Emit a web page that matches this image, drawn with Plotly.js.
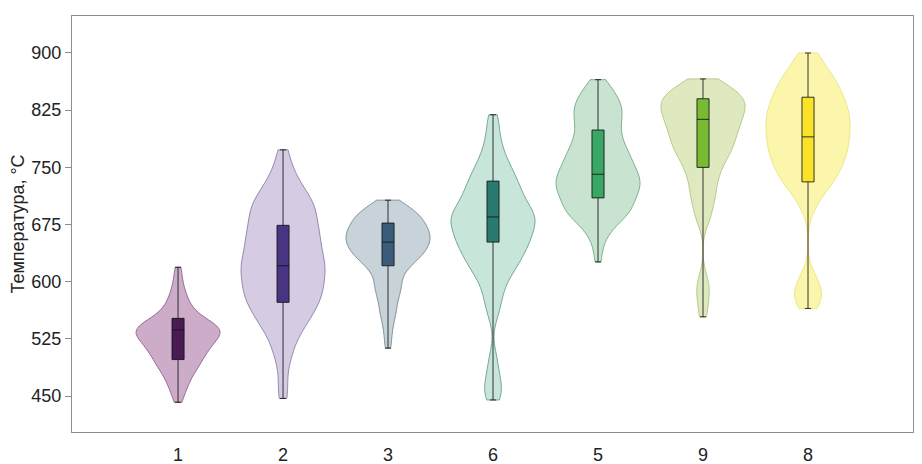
<!DOCTYPE html>
<html>
<head>
<meta charset="utf-8">
<script src="https://cdn.plot.ly/plotly-3.0.1.min.js"></script>
<style>
  html, body { margin: 0; padding: 0; background: #fff; }
  #chart { width: 922px; height: 464px; }
</style>
</head>
<body>
<div id="chart"></div>
<script>
// group order on the x axis
var groups = ['1', '2', '3', '6', '5', '9', '8'];

var g1 = [442, 452, 458, 463, 468, 471, 476, 479, 481, 484, 487, 489, 491, 493, 495, 497, 499,
  501, 503, 504, 506, 508, 509, 511, 512, 514, 515, 517, 518, 519, 521, 522, 523, 525, 526, 527,
  528, 529, 530, 531, 532, 533, 534, 535, 536, 537, 538, 539, 540, 541, 542, 543, 544, 545, 546,
  547, 549, 551, 553, 555, 557, 559, 562, 566, 569, 572, 578, 582, 588, 596, 606, 619];
var g2 = [447, 468, 493, 505, 516, 524, 532, 538, 542, 546, 551, 555, 558, 561, 564, 567, 571,
  574, 577, 579, 581, 584, 586, 589, 592, 594, 597, 599, 602, 605, 607, 610, 613, 615, 617, 619,
  621, 624, 626, 629, 632, 634, 636, 639, 642, 645, 648, 651, 654, 656, 659, 662, 664, 667, 670,
  673, 676, 679, 683, 686, 689, 692, 695, 698, 701, 704, 707, 711, 715, 719, 724, 730, 736, 745,
  756, 773];
var g3 = [513, 526, 537, 546, 553, 558, 564, 568, 573, 578, 582, 586, 589, 592, 595, 598, 601,
  605, 608, 611, 614, 617, 619, 621, 622, 624, 626, 627, 629, 631, 632, 633, 635, 636, 637, 638,
  639, 640, 641, 642, 643, 645, 646, 647, 648, 649, 650, 651, 652, 653, 654, 655, 656, 657, 658,
  659, 660, 661, 662, 663, 664, 665, 666, 667, 668, 669, 670, 671, 672, 674, 675, 676, 678, 679,
  679, 680, 681, 683, 684, 686, 687, 688, 689, 691, 692, 694, 696, 697, 699, 702, 704, 707];
var g6 = [445, 451, 458, 466, 475, 487, 503, 553, 566, 574, 583, 589, 596, 603, 606, 610, 614,
  618, 621, 623, 626, 628, 631, 634, 636, 639, 641, 643, 645, 647, 649, 651, 653, 655, 657, 659,
  661, 662, 664, 666, 668, 670, 672, 673, 675, 677, 679, 681, 682, 683, 685, 686, 688, 689, 691,
  692, 694, 696, 698, 701, 703, 705, 708, 710, 712, 714, 716, 719, 722, 725, 727, 730, 733, 736,
  739, 742, 746, 750, 753, 757, 764, 770, 776, 785, 795, 808, 819];
var g5 = [626, 644, 656, 664, 669, 673, 677, 681, 684, 686, 687, 689, 691, 692, 694, 696, 698,
  700, 702, 704, 706, 708, 710, 711, 713, 714, 716, 718, 720, 721, 723, 724, 726, 727, 728, 729,
  731, 733, 734, 736, 737, 739, 740, 742, 743, 745, 747, 749, 750, 752, 754, 756, 757, 759, 762,
  764, 766, 768, 770, 771, 773, 776, 779, 781, 784, 786, 789, 792, 795, 798, 801, 804, 807, 810,
  813, 816, 818, 820, 823, 826, 829, 831, 833, 836, 839, 842, 846, 849, 853, 858, 865];
var g9 = [554, 571, 584, 593, 606, 676, 686, 694, 702, 709, 714, 719, 725, 731, 736, 741, 745,
  749, 753, 757, 760, 763, 766, 769, 772, 774, 776, 778, 781, 783, 786, 788, 790, 792, 795, 797,
  799, 801, 803, 805, 807, 809, 811, 813, 815, 817, 818, 820, 822, 824, 826, 828, 829, 831, 832,
  834, 835, 837, 839, 841, 842, 844, 846, 847, 849, 851, 853, 856, 859, 862, 866];
var g8 = [565, 569, 574, 578, 583, 587, 592, 597, 604, 613, 691, 701, 709, 714, 718, 722, 726,
  728, 731, 733, 736, 739, 741, 743, 745, 747, 750, 752, 754, 756, 758, 760, 761, 763, 765, 767,
  769, 771, 773, 774, 776, 778, 779, 781, 783, 785, 787, 788, 790, 791, 793, 795, 797, 798, 800,
  802, 804, 805, 807, 808, 810, 812, 813, 815, 817, 819, 820, 822, 824, 825, 827, 829, 830, 832,
  834, 836, 838, 840, 842, 844, 846, 848, 850, 852, 854, 857, 859, 861, 863, 866, 869, 872, 875,
  878, 881, 886, 891, 897, 900];
var samples = [g1, g2, g3, g6, g5, g9, g8];

// box statistics as drawn (whiskers run from min to max)
var boxMin = [442, 447, 513, 445, 626, 554, 565];
var boxQ1 = [498, 573, 621, 652, 710, 750, 731];
var boxMed = [537, 621, 652, 685, 741, 813, 790];
var boxQ3 = [552, 674, 677, 732, 799, 840, 842];
var boxMax = [619, 773, 707, 819, 865, 866, 900];

var violinFill = ['rgb(205,172,201)', 'rgb(213,203,226)', 'rgb(200,211,217)', 'rgb(200,229,218)',
  'rgb(200,227,208)', 'rgb(222,233,192)', 'rgb(251,246,172)'];
var violinEdge = ['rgb(150,108,148)', 'rgb(150,138,172)', 'rgb(130,146,156)', 'rgb(118,166,150)',
  'rgb(128,176,144)', 'rgb(182,202,140)', 'rgb(240,230,130)'];
var boxFill = ['rgb(74,26,84)', 'rgb(72,52,130)', 'rgb(58,92,122)', 'rgb(42,122,112)',
  'rgb(58,166,102)', 'rgb(120,186,50)', 'rgb(250,226,40)'];
var bandwidths = [10, 16, 10, 14, 13, 13, 14];

var data = [];
groups.forEach(function (g, i) {
  data.push({
    type: 'violin',
    x0: g,
    y: samples[i],
    name: g,
    spanmode: 'hard',
    bandwidth: bandwidths[i],
    width: 0.8,
    points: false,
    box: { visible: false },
    meanline: { visible: false },
    fillcolor: violinFill[i],
    line: { color: violinEdge[i], width: 1 },
    hoverinfo: 'skip',
    showlegend: false
  });
});
groups.forEach(function (g, i) {
  data.push({
    type: 'box',
    x: [g],
    q1: [boxQ1[i]],
    median: [boxMed[i]],
    q3: [boxQ3[i]],
    lowerfence: [boxMin[i]],
    upperfence: [boxMax[i]],
    width: 0.115,
    whiskerwidth: 0.5,
    fillcolor: boxFill[i],
    line: { color: 'rgba(20,20,20,0.85)', width: 1 },
    showlegend: false
  });
});

var layout = {
  width: 922,
  height: 464,
  margin: { l: 72, r: 9, t: 16, b: 32 },
  paper_bgcolor: '#fff',
  plot_bgcolor: '#fff',
  font: { family: 'Liberation Sans, Arial, sans-serif', size: 18, color: '#222' },
  showlegend: false,
  violinmode: 'overlay',
  boxmode: 'overlay',
  xaxis: {
    type: 'category',
    categoryorder: 'array',
    categoryarray: groups,
    range: [-1.01, 7],
    showgrid: false,
    zeroline: false,
    showline: true,
    mirror: true,
    linecolor: '#8c8c8c',
    linewidth: 1,
    ticks: '',
    ticklabelstandoff: 6,
    tickfont: { size: 18, color: '#222' }
  },
  yaxis: {
    range: [403, 948.5],
    tickvals: [450, 525, 600, 675, 750, 825, 900],
    showgrid: false,
    zeroline: false,
    showline: true,
    mirror: true,
    linecolor: '#8c8c8c',
    linewidth: 1,
    ticks: 'outside',
    ticklen: 6,
    tickcolor: '#8c8c8c',
    tickfont: { size: 18, color: '#222' },
    title: { text: 'Температура, °C', font: { size: 18, color: '#222' }, standoff: 2 }
  }
};

var config = { displayModeBar: false, staticPlot: true };
Plotly.newPlot('chart', data, layout, config);
</script>
</body>
</html>
